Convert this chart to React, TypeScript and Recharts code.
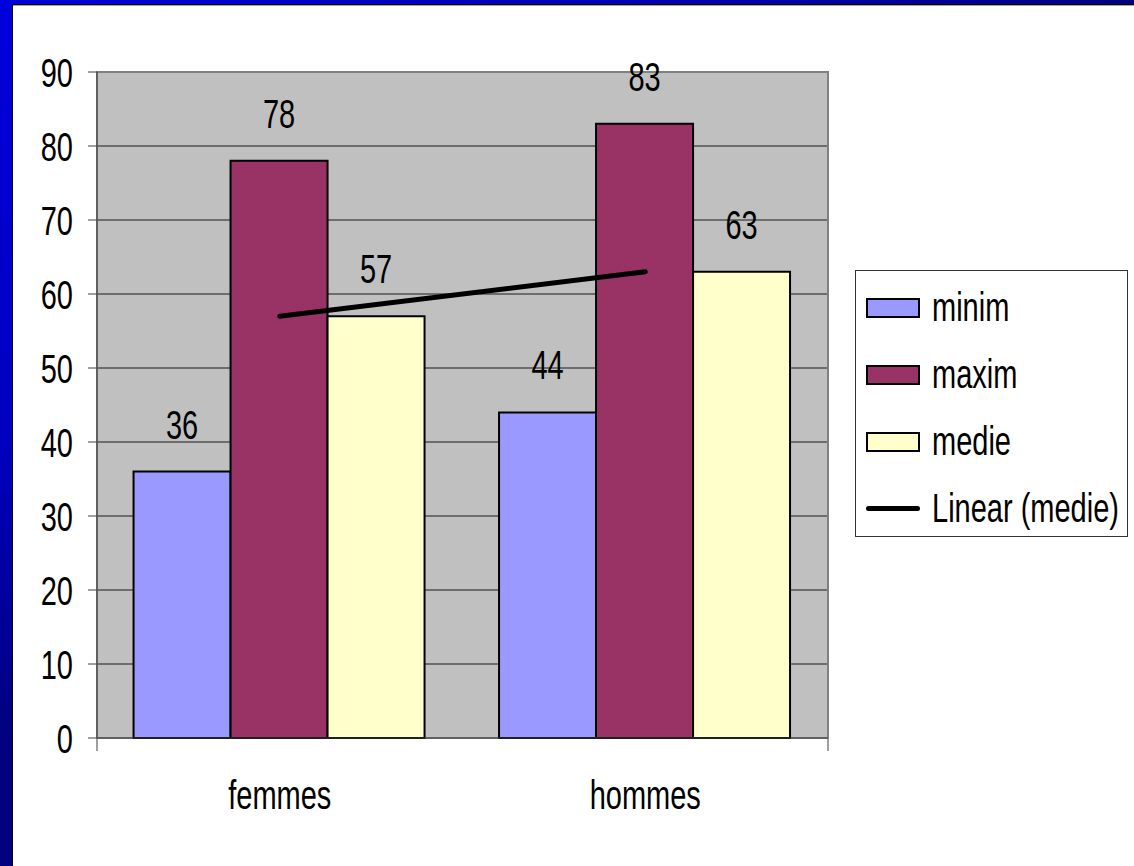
import React from "react";
import {
  Bar,
  CartesianGrid,
  ComposedChart,
  LabelList,
  Legend,
  Line,
  ReferenceArea,
  XAxis,
  YAxis,
} from "recharts";

// values
const categories = ["femmes", "hommes"];
const minimValues = [36, 44];
const maximValues = [78, 83];
const medieValues = [57, 63];
const trendValues = [57, 63];
const yTicks = [0, 10, 20, 30, 40, 50, 60, 70, 80, 90];
const edgeTicks = [0, 1, 2];
const seriesNames = ["minim", "maxim", "medie", "Linear (medie)"];
const seriesColors = ["#9999FF", "#993366", "#FFFFCC", "#000000"];

const data = categories.map((name, i) => ({
  name,
  minim: minimValues[i],
  maxim: maximValues[i],
  medie: medieValues[i],
  trend: trendValues[i],
}));

const FONT = '"Liberation Sans", Arial, sans-serif';
const FONT_SIZE = 29;
// the original slide is stretched vertically, text included
const STRETCH = 1.43;

function YTick(props: any) {
  const { x, y, payload } = props;
  return (
    <g transform={`translate(${x},${y}) scale(1,${STRETCH})`}>
      <text x={0} y={0} dy="0.36em" textAnchor="end" fontFamily={FONT} fontSize={FONT_SIZE} fill="#000">
        {payload.value}
      </text>
    </g>
  );
}

function XTick(props: any) {
  const { x, y, payload } = props;
  return (
    <g transform={`translate(${x},${y}) scale(1,${STRETCH})`}>
      <text x={0} y={0} textAnchor="middle" fontFamily={FONT} fontSize={FONT_SIZE} fill="#000">
        {payload.value}
      </text>
    </g>
  );
}

// tick marks only, between the categories
function NoLabel() {
  return <g />;
}

function BarLabel(props: any) {
  const { x, y, width, value } = props;
  const cx = Number(x) + Number(width) / 2;
  return (
    <g transform={`translate(${cx},${Number(y) - 33}) scale(1,${STRETCH})`}>
      <text x={0} y={0} textAnchor="middle" fontFamily={FONT} fontSize={FONT_SIZE} fill="#000">
        {value}
      </text>
    </g>
  );
}

function LegendBox() {
  return (
    <div
      style={{
        width: 273,
        height: 267,
        boxSizing: "border-box",
        border: "1px solid #333",
        background: "#fff",
        paddingTop: 3,
      }}
    >
      {seriesNames.map((name, i) => (
        <div key={name} style={{ display: "flex", alignItems: "center", height: 67 }}>
          {i < 3 ? (
            <div
              style={{
                marginLeft: 10,
                width: 54,
                height: 20,
                boxSizing: "border-box",
                border: "2px solid #000",
                background: seriesColors[i],
              }}
            />
          ) : (
            <div style={{ marginLeft: 10, width: 54, height: 5, borderRadius: 3, background: seriesColors[i] }} />
          )}
          <span
            style={{
              marginLeft: 12,
              display: "inline-block",
              fontFamily: FONT,
              fontSize: FONT_SIZE,
              lineHeight: 1,
              color: "#000",
              transform: `scaleY(${STRETCH})`,
              whiteSpace: "nowrap",
            }}
          >
            {name}
          </span>
        </div>
      ))}
    </div>
  );
}

export default function App(): React.ReactElement {
  return (
    <div
      style={{
        position: "absolute",
        left: 0,
        top: 0,
        width: 1134,
        height: 866,
        background: "#fff",
        overflow: "hidden",
      }}
    >
      <div style={{ position: "absolute", left: 0, top: 0, width: 1134, height: 4, background: "linear-gradient(90deg, #0000dd, #0000b0 60%, #000080)" }} />
      <div style={{ position: "absolute", left: 0, top: 0, width: 12, height: 866, background: "linear-gradient(180deg, #0000dd, #0000c0 50%, #000080 85%)" }} />
      <div style={{ position: "absolute", left: 12, top: 4, width: 1122, height: 1, background: "#000" }} />
      <div style={{ position: "absolute", left: 13, top: 5, width: 1121, height: 1, background: "#a0a0a0" }} />
      <div style={{ position: "absolute", left: 12, top: 4, width: 1, height: 862, background: "#000" }} />

      <div style={{ position: "absolute", left: 0, top: 0 }}>
        <ComposedChart
          width={1134}
          height={866}
          data={data}
          margin={{ top: 72, right: 306, bottom: 126, left: 0 }}
          barCategoryGap="10%"
          barGap={0}
        >
          <CartesianGrid xAxisId="cat" vertical={false} fill="#C0C0C0" stroke="#1a1a1a" strokeWidth={1} />
          <ReferenceArea xAxisId="cat" y1={0} y2={90} fill="none" stroke="#808080" strokeWidth={2} />
          <XAxis
            xAxisId="edges"
            type="number"
            domain={[0, 2]}
            ticks={edgeTicks}
            allowDataOverflow
            height={1}
            interval={0}
            tick={<NoLabel />}
            axisLine={false}
            tickSize={12}
            tickLine={{ stroke: "#404040" }}
          />
          <XAxis
            xAxisId="cat"
            dataKey="name"
            height={1}
            interval={0}
            tickLine={false}
            tickSize={0}
            tickMargin={71}
            axisLine={{ stroke: "#404040" }}
            tick={<XTick />}
          />
          <YAxis
            width={97}
            domain={[0, 90]}
            ticks={yTicks}
            interval={0}
            tickSize={9}
            tickMargin={15}
            axisLine={{ stroke: "#404040" }}
            tickLine={{ stroke: "#404040" }}
            tick={<YTick />}
          />
          <Bar xAxisId="cat" dataKey="minim" name={seriesNames[0]} fill={seriesColors[0]} stroke="#000" strokeWidth={2} isAnimationActive={false}>
            <LabelList dataKey="minim" content={<BarLabel />} />
          </Bar>
          <Bar xAxisId="cat" dataKey="maxim" name={seriesNames[1]} fill={seriesColors[1]} stroke="#000" strokeWidth={2} isAnimationActive={false}>
            <LabelList dataKey="maxim" content={<BarLabel />} />
          </Bar>
          <Bar xAxisId="cat" dataKey="medie" name={seriesNames[2]} fill={seriesColors[2]} stroke="#000" strokeWidth={2} isAnimationActive={false}>
            <LabelList dataKey="medie" content={<BarLabel />} />
          </Bar>
          <Line
            xAxisId="cat"
            dataKey="trend"
            name={seriesNames[3]}
            stroke="#000"
            strokeWidth={5}
            strokeLinecap="round"
            dot={false}
            activeDot={false}
            isAnimationActive={false}
          />
          <Legend
            layout="vertical"
            align="center"
            verticalAlign="middle"
            content={<LegendBox />}
            wrapperStyle={{ left: 855, top: 270, width: 273, height: 267 }}
          />
        </ComposedChart>
      </div>
    </div>
  );
}
